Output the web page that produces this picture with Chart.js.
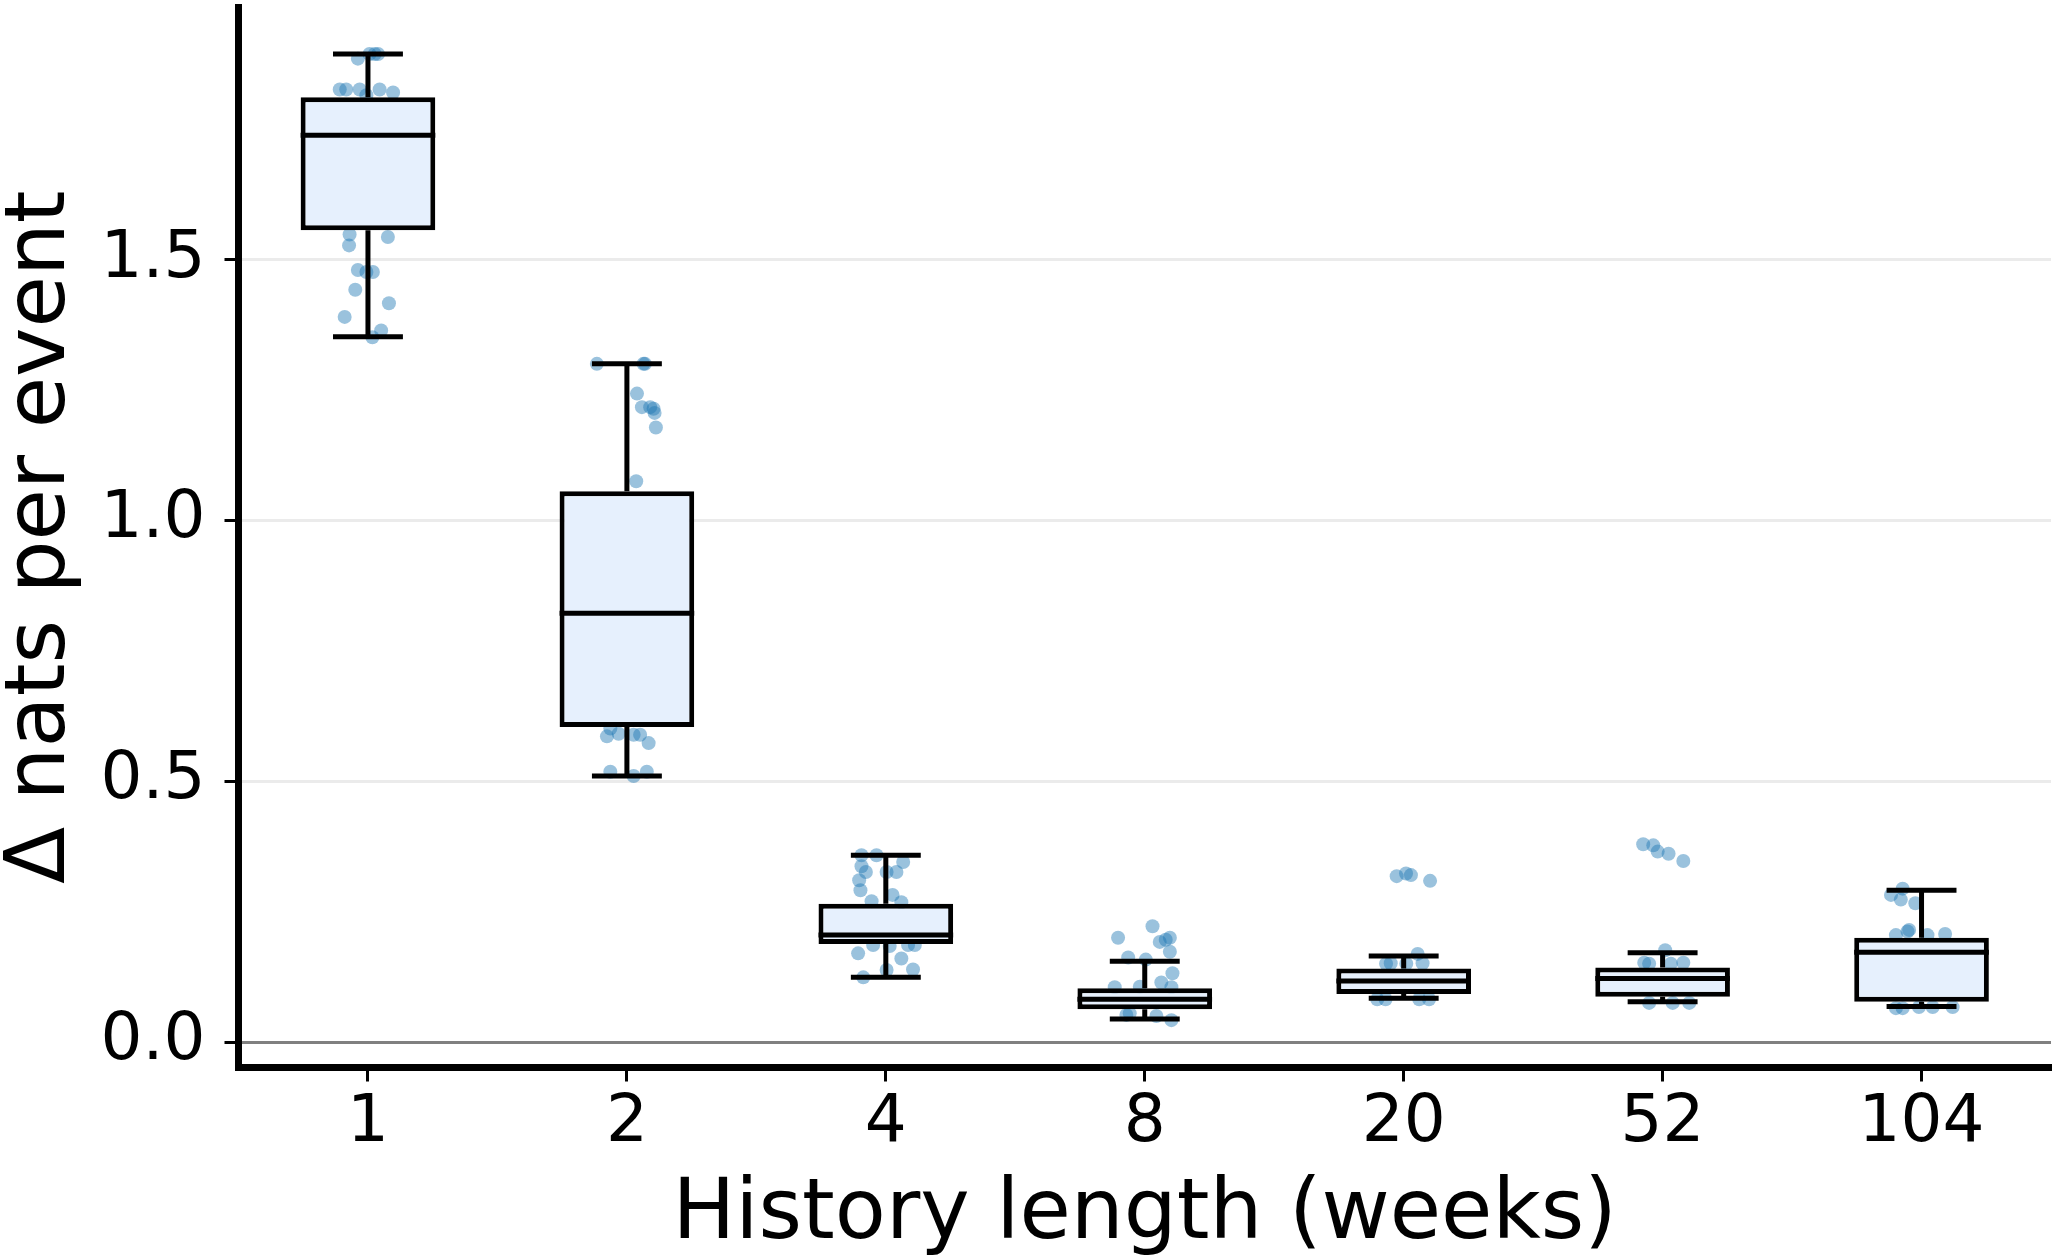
<!DOCTYPE html>
<html>
<head>
<meta charset="utf-8">
<script src="https://cdn.jsdelivr.net/npm/chart.js@4.4.1/dist/chart.umd.min.js"></script>
<style>
  html, body { margin: 0; padding: 0; background: #fff; }
  #wrap { width: 2058px; height: 1260px; }
</style>
</head>
<body>
<div id="wrap"><canvas id="chart" width="2058" height="1260"></canvas></div>
<script>
// history length categories (weeks)
var categories = ['1', '2', '4', '8', '20', '52', '104'];

// box statistics
var whiskerLow  = [1.352, 0.510, 0.124, 0.044, 0.084, 0.077, 0.068];
var q1          = [1.556, 0.604, 0.188, 0.063, 0.092, 0.087, 0.077];
var medians     = [1.738, 0.822, 0.205, 0.082, 0.117, 0.122, 0.172];
var q3          = [1.811, 1.056, 0.265, 0.103, 0.141, 0.143, 0.200];
var whiskerHigh = [1.894, 1.300, 0.358, 0.155, 0.165, 0.171, 0.291];

var yTicks = [0, 0.5, 1.0, 1.5];

// individual runs (value) and their jitter (in category units)
var pts1 = [1.894, 1.894, 1.894, 1.885, 1.826, 1.826, 1.826, 1.826, 1.820, 1.815, 1.548, 1.543, 1.527, 1.480, 1.476, 1.476, 1.442, 1.416, 1.390, 1.364, 1.351];
var jit1 = [0.006, 0.026, 0.039, -0.039, -0.109, -0.084, -0.032, 0.045, 0.097, -0.006, -0.071, 0.077, -0.073, -0.039, 0.019, -0.006, -0.049, 0.081, -0.090, 0.051, 0.017];

var pts2 = [1.300, 1.300, 1.300, 1.243, 1.217, 1.217, 1.214, 1.206, 1.178, 1.075, 0.601, 0.591, 0.586, 0.589, 0.589, 0.573, 0.518, 0.510, 0.518];
var jit2 = [-0.116, 0.064, 0.070, 0.039, 0.058, 0.090, 0.103, 0.107, 0.112, 0.036, -0.064, -0.032, -0.077, 0.026, 0.051, 0.084, -0.064, 0.026, 0.077];

var pts4 = [0.358, 0.358, 0.337, 0.326, 0.326, 0.345, 0.326, 0.310, 0.291, 0.282, 0.270, 0.268, 0.170, 0.186, 0.184, 0.186, 0.186, 0.160, 0.138, 0.139, 0.124];
var jit4 = [-0.094, -0.036, -0.094, -0.077, 0.003, 0.067, 0.041, -0.103, -0.098, 0.026, -0.055, 0.060, -0.107, -0.049, 0.015, 0.086, 0.112, 0.060, 0.003, 0.105, -0.087];

var pts8 = [0.222, 0.200, 0.192, 0.200, 0.196, 0.173, 0.162, 0.158, 0.132, 0.114, 0.105, 0.106, 0.105, 0.052, 0.050, 0.042, 0.055];
var jit8 = [0.030, -0.103, 0.058, 0.097, 0.081, 0.097, -0.064, 0.004, 0.107, 0.064, -0.116, -0.019, 0.103, -0.071, 0.045, 0.103, -0.058];

var pts20 = [0.318, 0.323, 0.320, 0.309, 0.169, 0.151, 0.150, 0.151, 0.150, 0.082, 0.082, 0.082, 0.082];
var jit20 = [-0.027, 0.009, 0.028, 0.102, 0.054, 0.073, -0.068, -0.050, 0.010, -0.102, -0.070, 0.060, 0.098];

var pts52 = [0.379, 0.377, 0.365, 0.361, 0.347, 0.176, 0.152, 0.150, 0.152, 0.150, 0.075, 0.075, 0.075];
var jit52 = [-0.075, -0.036, -0.019, 0.023, 0.080, 0.010, -0.071, -0.052, 0.080, 0.032, -0.052, 0.039, 0.103];

var pts104 = [0.282, 0.294, 0.273, 0.266, 0.215, 0.212, 0.205, 0.205, 0.207, 0.065, 0.065, 0.067, 0.067, 0.067];
var jit104 = [-0.118, -0.073, -0.080, -0.024, -0.048, -0.054, -0.099, 0.023, 0.091, -0.099, -0.073, -0.010, 0.043, 0.120];

var groups = [[pts1, jit1], [pts2, jit2], [pts4, jit4], [pts8, jit8], [pts20, jit20], [pts52, jit52], [pts104, jit104]];

var FONT = "'DejaVu Sans', sans-serif";

var scatterData = [];
groups.forEach(function(g, i) {
    g[0].forEach(function(v, k) {
        scatterData.push({ x: i + g[1][k], y: v });
    });
});

// whiskers, caps and median lines on top of the boxes
var boxParts = {
    id: 'boxParts',
    afterDatasetsDraw: function(chart) {
        var ctx = chart.ctx;
        var xs = chart.scales.x, ys = chart.scales.y;
        var band = xs.getPixelForValue(1) - xs.getPixelForValue(0);
        var bars = chart.getDatasetMeta(0).data;
        ctx.save();
        ctx.strokeStyle = '#000';
        ctx.lineWidth = 5;
        ctx.lineCap = 'butt';
        bars.forEach(function(bar, i) {
            var cx = bar.x;
            var capHalf = band * 0.135;
            var yHi = ys.getPixelForValue(whiskerHigh[i]);
            var yLo = ys.getPixelForValue(whiskerLow[i]);
            var yQ1 = ys.getPixelForValue(q1[i]);
            var yQ3 = ys.getPixelForValue(q3[i]);
            var yMed = ys.getPixelForValue(medians[i]);
            var half = bar.width / 2;
            ctx.beginPath();
            ctx.moveTo(cx, yQ3); ctx.lineTo(cx, yHi);
            ctx.moveTo(cx, yQ1); ctx.lineTo(cx, yLo);
            ctx.moveTo(cx - capHalf, yHi); ctx.lineTo(cx + capHalf, yHi);
            ctx.moveTo(cx - capHalf, yLo); ctx.lineTo(cx + capHalf, yLo);
            ctx.moveTo(cx - half, yMed); ctx.lineTo(cx + half, yMed);
            ctx.stroke();
        });
        ctx.restore();
    }
};

new Chart(document.getElementById('chart'), {
    type: 'bar',
    data: {
        labels: categories,
        datasets: [{
            label: 'box',
            data: categories.map(function(c, i) { return [q1[i], q3[i]]; }),
            backgroundColor: 'rgb(230,240,253)',
            borderColor: '#000',
            borderWidth: 5,
            borderSkipped: false,
            grouped: false,
            barPercentage: 0.52,
            categoryPercentage: 1.0,
            order: 0
        }, {
            type: 'scatter',
            label: 'runs',
            data: scatterData,
            xAxisID: 'xj',
            yAxisID: 'y',
            pointRadius: 7,
            pointBackgroundColor: 'rgba(31,119,180,0.45)',
            pointBorderWidth: 0,
            showLine: false,
            order: 1
        }]
    },
    options: {
        responsive: false,
        animation: false,
        devicePixelRatio: 1,
        layout: { padding: { left: 0, right: 4.5, top: 0, bottom: 0 } },
        plugins: { legend: { display: false }, tooltip: { enabled: false } },
        scales: {
            x: {
                type: 'category',
                offset: true,
                grid: { offset: false, drawOnChartArea: false, drawTicks: true, tickLength: 14, tickWidth: 3, tickColor: '#000' },
                border: { display: true, color: '#000', width: 7 },
                ticks: { color: '#000', font: { family: FONT, size: 66 }, padding: 3, maxRotation: 0, autoSkip: false },
                title: {
                    display: true,
                    text: 'History length (weeks)',
                    color: '#000',
                    font: { family: FONT, size: 83.5, lineHeight: 1 },
                    padding: { top: 0, bottom: 2 }
                },
                afterFit: function(s) {
                    s.height = 192.5;
                    s.paddingLeft = 0; s.paddingRight = 0; s.paddingTop = 0; s.paddingBottom = 0;
                }
            },
            xj: {
                type: 'linear',
                axis: 'x',
                position: 'bottom',
                display: false,
                offset: false,
                grace: 0,
                min: -0.5,
                max: 6.5
            },
            y: {
                type: 'linear',
                min: -0.0488,
                max: 1.984,
                afterBuildTicks: function(s) {
                    s.ticks = yTicks.map(function(v) { return { value: v }; });
                },
                grid: {
                    color: function(c) { return c.tick && c.tick.value === 0 ? '#808080' : '#ebebeb'; },
                    lineWidth: 3,
                    drawTicks: true,
                    tickLength: 14,
                    tickWidth: 3,
                    tickColor: '#000'
                },
                border: { display: true, color: '#000', width: 7 },
                ticks: {
                    color: '#000',
                    font: { family: FONT, size: 66 },
                    padding: 19,
                    callback: function(v) { return Number(v).toFixed(1); }
                },
                title: {
                    display: true,
                    text: '\u0394 nats per event',
                    color: '#000',
                    font: { family: FONT, size: 83.5, lineHeight: 1 },
                    padding: { top: 1, bottom: 0 }
                },
                afterFit: function(s) {
                    s.width = 238.5;
                    s.paddingLeft = 0; s.paddingRight = 0; s.paddingTop = 0; s.paddingBottom = 0;
                }
            }
        }
    },
    plugins: [boxParts]
});
</script>
</body>
</html>
